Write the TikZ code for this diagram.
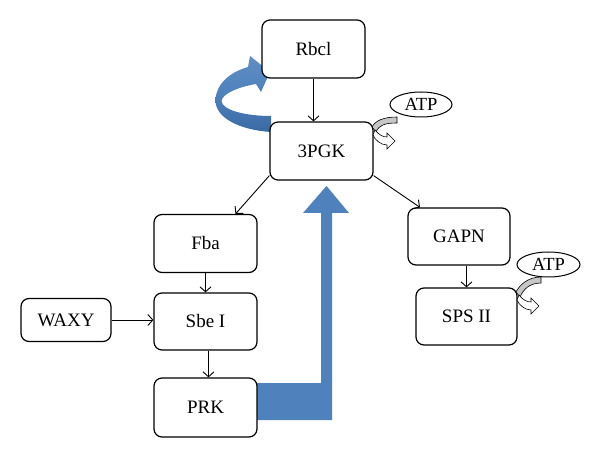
\documentclass[tikz,border=0pt]{standalone}
\usepackage{fontspec}
\setmainfont{Liberation Serif}
\usetikzlibrary{arrows.meta,calc,shapes.geometric}
\definecolor{offblue}{HTML}{4F81BD}
\definecolor{offbluedark}{HTML}{3A6AA3}
\newcommand{\atpflow}[3]{%
  \begin{scope}[shift={(#1,#2)}]
    \filldraw[fill=gray!45, draw=black, line width=0.6pt]
      (24,#3-6) .. controls (10,#3-6) and (2,-4) .. (-1,2) -- (3,7)
      .. controls (6,0) and (12,#3) .. (24,#3) -- cycle;
    \filldraw[fill=white, draw=black, line width=0.6pt]
      (2,5) .. controls (6,10) and (10,12) .. (14,12) -- (14,8) -- (22,16)
      -- (14,24) -- (14,20) .. controls (8,20) and (2,15) .. (0,10) -- cycle;
  \end{scope}}
\begin{document}
\begin{tikzpicture}[x=1pt,y=-1pt,
  box/.style={draw, line width=1.2pt, rounded corners=8pt, fill=white,
    font=\fontsize{19}{22}\selectfont, inner sep=0pt},
  atpnode/.style={draw, ellipse, line width=1pt, fill=white, inner sep=0pt,
    font=\fontsize{18.5}{22}\selectfont},
  conn/.style={line width=0.9pt, -{Straight Barb[length=5pt,width=11pt,line width=0.9pt]}}]
\useasboundingbox (0,0) rectangle (600,457);

% big blue L-shaped arrow (behind boxes)
\fill[offblue] (255,383) -- (321,383) -- (321,213) -- (303,213) -- (326.5,186)
  -- (349,213) -- (332,213) -- (332,420) -- (255,420) -- cycle;

% curved blue arrow
\shade[top color=offblue!90!white, bottom color=offbluedark, middle color=offblue]
  (271,132) .. controls (240,130) and (215,118) .. (215.5,100)
  .. controls (216,84) and (230,72) .. (248,67)
  -- (250,56) -- (270,72) -- (261,92) -- (256,84)
  .. controls (238,87) and (222,94) .. (221.5,101)
  .. controls (222,110) and (245,116) .. (271,116) -- cycle;

\node[box, minimum width=103pt, minimum height=58pt] (Rbcl) at (313.5,49) {Rbcl};
\node[box, minimum width=103pt, minimum height=58pt] (PGK) at (321.5,151) {3PGK};
\node[box, minimum width=103pt, minimum height=58pt] (Fba) at (205.5,243.5) {Fba};
\node[box, minimum width=103pt, minimum height=57pt] (Sbe) at (205.5,321.5) {Sbe I};
\node[box, minimum width=103pt, minimum height=59pt] (PRK) at (205.5,407.5) {PRK};
\node[box, minimum width=90pt, minimum height=43pt] (WAXY) at (66,320) {WAXY};
\node[box, minimum width=102pt, minimum height=57pt] (GAPN) at (459,236.5) {GAPN};
\node[box, minimum width=101pt, minimum height=57pt] (SPS) at (466.5,316.5) {SPS II};

\node[atpnode, minimum width=62pt, minimum height=25pt] (ATP1) at (421,104.5) {ATP};
\node[atpnode, minimum width=63pt, minimum height=25pt] (ATP2) at (548.5,264.5) {ATP};

\atpflow{373}{125}{-2}
\atpflow{517}{290}{-7}

\draw[conn] (Rbcl.south) -- (Rbcl.south |- PGK.north);
\draw[conn] ($(PGK.south west)+(0,-5)$) -- ($(Fba.north)+(30,0)$);
\draw[conn] ($(PGK.south east)+(0,-5)$) -- ($(GAPN.north)+(-39,0)$);
\draw[conn] (Fba.south) -- (Fba.south |- Sbe.north);
\draw[conn] (WAXY.east) -- (WAXY.east -| Sbe.west);
\draw[conn] ($(Sbe.south)+(3,0)$) -- ($(PRK.north)+(3,0)$);
\draw[conn] (SPS.north |- GAPN.south) -- (SPS.north);
\end{tikzpicture}
\end{document}
